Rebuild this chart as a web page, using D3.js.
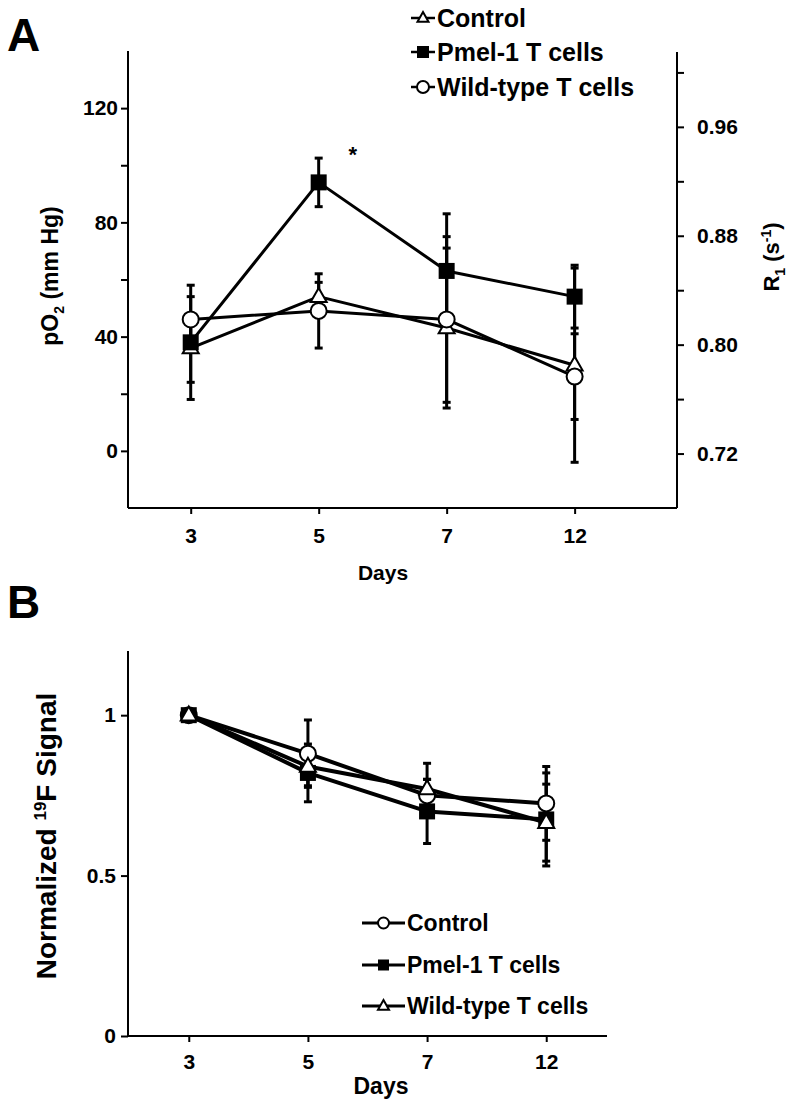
<!DOCTYPE html>
<html>
<head>
<meta charset="utf-8">
<script src="https://cdn.jsdelivr.net/npm/d3@7"></script>
<style>
  body { margin: 0; background: #fff; }
  svg { display: block; font-family: "Liberation Sans", Arial, sans-serif; font-weight: bold; }
</style>
</head>
<body>
<svg id="chart" width="796" height="1104"></svg>
<script>
// days shown on both panels
var days = ["3", "5", "7", "12"];

// panel A: pO2 (mm Hg), mean and error
var aControl = [36, 54, 43, 30],
    aControlErr = [12, 5, 28, 34];
var aPmel = [38, 94, 63, 54],
    aPmelErr = [20, 8.5, 20, 11];
var aWild = [46, 49, 46, 26],
    aWildErr = [8, 13, 29, 15];

var aLeftTicks = [0, 20, 40, 60, 80, 100, 120],
    aLeftLabels = [0, 40, 80, 120];
var aRightTicks = [0.72, 0.76, 0.80, 0.84, 0.88, 0.92, 0.96, 1.00],
    aRightLabels = [0.72, 0.80, 0.88, 0.96];

// panel B: normalized 19F signal
var bControl = [1, 0.88, 0.75, 0.725],
    bControlErr = [0, 0.105, 0.05, 0.115];
var bPmel = [1, 0.82, 0.70, 0.675],
    bPmelErr = [0, 0.09, 0.10, 0.145];
var bWild = [1, 0.84, 0.77, 0.665],
    bWildErr = [0, 0.06, 0.08, 0.12];

var bTicks = [0, 0.5, 1];

var svg = d3.select("#chart");
var FONT = "Liberation Sans, Arial, sans-serif";

// marker drawing: type is "circle", "square" or "triangle"
function marker(sel, type, s) {
    if (type == "circle") {
        sel.append("circle").attr("r", s / 2).attr("fill", "#fff")
            .attr("stroke", "#000").attr("stroke-width", 2);
    } else if (type == "square") {
        sel.append("rect").attr("x", -s / 2).attr("y", -s / 2)
            .attr("width", s).attr("height", s).attr("fill", "#000");
    } else {
        var h = s * 0.87;
        sel.append("path")
            .attr("d", "M0," + (-h * 0.62) + "L" + (s / 2) + "," + (h * 0.38) + "L" + (-s / 2) + "," + (h * 0.38) + "Z")
            .attr("fill", "#fff").attr("stroke", "#000").attr("stroke-width", 2);
    }
}

function drawSeries(g, x, y, vals, errs) {
    var pts = vals.map(function (v, i) { return {i: i, v: v, e: errs[i]}; });
    var eb = g.append("g");
    pts.forEach(function (d) {
        if (!d.e) return;
        var cx = x(d.i);
        eb.append("line").attr("x1", cx).attr("x2", cx)
            .attr("y1", y(d.v - d.e)).attr("y2", y(d.v + d.e))
            .attr("stroke", "#000").attr("stroke-width", 3);
        [d.v - d.e, d.v + d.e].forEach(function (c) {
            eb.append("line").attr("x1", cx - 4).attr("x2", cx + 4)
                .attr("y1", y(c)).attr("y2", y(c))
                .attr("stroke", "#000").attr("stroke-width", 3);
        });
    });
    return pts;
}

function drawLine(g, x, y, pts, lw) {
    g.append("path")
        .datum(pts)
        .attr("fill", "none").attr("stroke", "#000").attr("stroke-width", lw)
        .attr("stroke-linejoin", "round")
        .attr("d", d3.line().x(function (d) { return x(d.i); }).y(function (d) { return y(d.v); }));
}

function drawMarkers(g, x, y, pts, type, ms) {
    pts.forEach(function (d) {
        var m = g.append("g").attr("transform", "translate(" + x(d.i) + "," + y(d.v) + ")");
        marker(m, type, ms);
    });
}

function legendRow(g, x0, x1, yy, type, ms, label, lw, fs) {
    g.append("line").attr("x1", x0).attr("x2", x1).attr("y1", yy).attr("y2", yy)
        .attr("stroke", "#000").attr("stroke-width", lw);
    var m = g.append("g").attr("transform", "translate(" + ((x0 + x1) / 2) + "," + yy + ")");
    marker(m, type, ms);
    g.append("text").attr("x", x1 + 2).attr("y", yy + fs * 0.36).attr("font-size", fs).text(label);
}

function styleAxis(a) {
    a.select(".domain").attr("stroke-width", 2);
    a.selectAll(".tick line").attr("stroke-width", 2);
    a.selectAll("text").attr("font-size", 21).attr("font-weight", "bold")
        .attr("font-family", FONT).attr("fill", "#000");
}

// ---------------- Panel A ----------------
var xA = d3.scaleLinear().domain([-0.49, 3.8]).range([128, 677]);
var yA = d3.scaleLinear().domain([-20, 140]).range([508, 51]);
var yR = d3.scaleLinear().domain([0.68, 1.015]).range([508, 52]);

svg.append("text").attr("x", 7).attr("y", 51).attr("font-size", 46).text("A");

var gA = svg.append("g");

var axL = gA.append("g").attr("transform", "translate(128,0)")
    .call(d3.axisLeft(yA).tickValues(aLeftTicks).tickSize(7)
        .tickFormat(function (d) { return aLeftLabels.indexOf(d) > -1 ? d : ""; }));
axL.select(".domain").attr("d", "M0," + yA(140) + "V" + yA(-20));

var axR = gA.append("g").attr("transform", "translate(677,0)")
    .call(d3.axisRight(yR).tickValues(aRightTicks).tickSize(7)
        .tickFormat(function (d) { return aRightLabels.indexOf(+d.toFixed(2)) > -1 ? d3.format(".2f")(d) : ""; }));
axR.select(".domain").attr("d", "M0," + yR(1.015) + "V" + yR(0.68));

var axB = gA.append("g").attr("transform", "translate(0,508)")
    .call(d3.axisBottom(xA).tickValues([0, 1, 2, 3]).tickSize(6)
        .tickFormat(function (d) { return days[d]; }));
axB.select(".domain").attr("d", "M128,0H677");

[axL, axR, axB].forEach(styleAxis);
axL.selectAll("text").attr("x", -10);
axR.selectAll("text").attr("x", 20);
axB.selectAll("text").attr("y", 20);

gA.append("text").attr("x", 383).attr("y", 580).attr("text-anchor", "middle")
    .attr("font-size", 21).text("Days");

var tl = gA.append("text").attr("transform", "translate(58,276) rotate(-90)")
    .attr("text-anchor", "middle").attr("font-size", 23);
tl.append("tspan").text("pO");
tl.append("tspan").attr("font-size", 14).attr("dy", 6).text("2");
tl.append("tspan").attr("dy", -6).text(" (mm Hg)");

var tr = gA.append("text").attr("transform", "translate(779,257) rotate(-90)")
    .attr("text-anchor", "middle").attr("font-size", 22);
tr.append("tspan").text("R");
tr.append("tspan").attr("font-size", 14).attr("dy", 6).text("1");
tr.append("tspan").attr("dy", -6).text(" (s");
tr.append("tspan").attr("font-size", 14).attr("dy", -8).text("-1");
tr.append("tspan").attr("dy", 8).text(")");

var pAc = drawSeries(gA, xA, yA, aControl, aControlErr);
var pAp = drawSeries(gA, xA, yA, aPmel, aPmelErr);
var pAw = drawSeries(gA, xA, yA, aWild, aWildErr);
drawLine(gA, xA, yA, pAc, 3);
drawLine(gA, xA, yA, pAw, 3);
drawLine(gA, xA, yA, pAp, 3);
drawMarkers(gA, xA, yA, pAc, "triangle", 16);
drawMarkers(gA, xA, yA, pAw, "circle", 16);
drawMarkers(gA, xA, yA, pAp, "square", 16);

gA.append("text").attr("x", xA(1) + 34).attr("y", yA(aPmel[1] + aPmelErr[1]) + 4)
    .attr("text-anchor", "middle").attr("font-size", 22).text("*");

var legA = svg.append("g");
legendRow(legA, 411, 435, 18, "triangle", 11, "Control", 2.5, 25);
legendRow(legA, 411, 435, 52, "square", 12, "Pmel-1 T cells", 2.5, 25);
legendRow(legA, 411, 435, 87, "circle", 12, "Wild-type T cells", 2.5, 25);

// ---------------- Panel B ----------------
var xB = d3.scaleLinear().domain([-0.51, 3.51]).range([128, 607]);
var yB = d3.scaleLinear().domain([0, 1.2]).range([1036, 651]);

svg.append("text").attr("x", 7).attr("y", 618).attr("font-size", 46).text("B");

var gB = svg.append("g");

var bxL = gB.append("g").attr("transform", "translate(128,0)")
    .call(d3.axisLeft(yB).tickValues(bTicks).tickSize(7)
        .tickFormat(function (d) { return String(d); }));
bxL.select(".domain").attr("d", "M0," + yB(1.2) + "V" + yB(0));

var bxB = gB.append("g").attr("transform", "translate(0,1036)")
    .call(d3.axisBottom(xB).tickValues([0, 1, 2, 3]).tickSize(6)
        .tickFormat(function (d) { return days[d]; }));
bxB.select(".domain").attr("d", "M128,0H607");

[bxL, bxB].forEach(styleAxis);
bxL.selectAll("text").attr("x", -12);
bxB.selectAll("text").attr("y", 18);

gB.append("text").attr("x", 381).attr("y", 1094).attr("text-anchor", "middle")
    .attr("font-size", 23).text("Days");

var bl = gB.append("text").attr("transform", "translate(56,836) rotate(-90)")
    .attr("text-anchor", "middle").attr("font-size", 28);
bl.append("tspan").text("Normalized ");
bl.append("tspan").attr("font-size", 17).attr("dy", -10).text("19");
bl.append("tspan").attr("dy", 10).text("F Signal");

var pBc = drawSeries(gB, xB, yB, bControl, bControlErr);
var pBp = drawSeries(gB, xB, yB, bPmel, bPmelErr);
var pBw = drawSeries(gB, xB, yB, bWild, bWildErr);
drawLine(gB, xB, yB, pBc, 4);
drawLine(gB, xB, yB, pBp, 4);
drawLine(gB, xB, yB, pBw, 4);
drawMarkers(gB, xB, yB, pBc, "circle", 16);
drawMarkers(gB, xB, yB, pBp, "square", 16);
drawMarkers(gB, xB, yB, pBw, "triangle", 16);

var legB = svg.append("g");
legendRow(legB, 362, 405, 923, "circle", 11, "Control", 3, 23);
legendRow(legB, 362, 405, 965, "square", 11, "Pmel-1 T cells", 3, 23);
legendRow(legB, 362, 405, 1006, "triangle", 11, "Wild-type T cells", 3, 23);
</script>
</body>
</html>
